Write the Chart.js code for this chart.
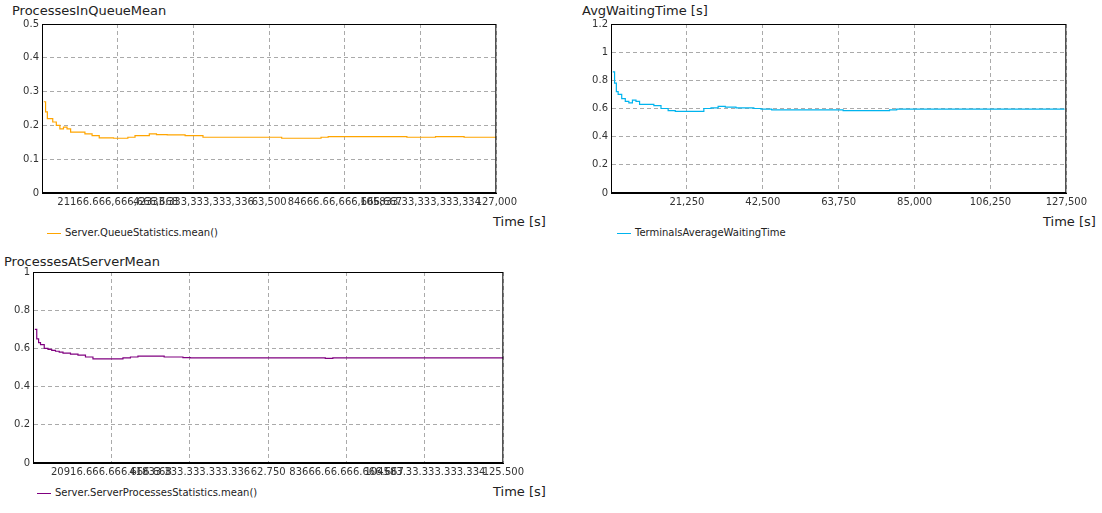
<!DOCTYPE html>
<html><head><meta charset="utf-8">
<script src="https://cdn.jsdelivr.net/npm/chart.js@4"></script>
<style>
body{margin:0;background:#fff;font-family:"DejaVu Sans",sans-serif;}
.c{position:absolute;}
.t{position:absolute;font-size:13px;color:#222;white-space:nowrap;}
.l{position:absolute;font-size:10px;color:#222;white-space:nowrap;}
.l span{display:inline-block;width:14px;height:1px;vertical-align:middle;margin-right:4px;}
</style></head><body>
<div class="t" style="left:12px;top:3px">ProcessesInQueueMean</div>
<div class="t" style="left:582px;top:3px">AvgWaitingTime [s]</div>
<div class="t" style="left:4px;top:254px">ProcessesAtServerMean</div>
<div class="t" style="left:493px;top:214px">Time [s]</div>
<div class="t" style="left:1043px;top:214px">Time [s]</div>
<div class="t" style="left:493px;top:484px">Time [s]</div>
<div class="l" style="left:47px;top:227px"><span style="background:#ffa500"></span>Server.QueueStatistics.mean()</div>
<div class="l" style="left:617px;top:227px"><span style="background:#00b4ee"></span>TerminalsAverageWaitingTime</div>
<div class="l" style="left:37px;top:487px"><span style="background:#800080"></span>Server.ServerProcessesStatistics.mean()</div>
<div class="c" style="left:0;top:15px;width:520px;height:200px"><canvas id="c1"></canvas></div>
<div class="c" style="left:569px;top:15px;width:521px;height:200px"><canvas id="c2"></canvas></div>
<div class="c" style="left:0;top:263px;width:527px;height:222px"><canvas id="c3"></canvas></div>
<script>
const times = [500,1000,1500,2000,3000,4000,5000,6000,7000,8000,10000,12000,14000,16000,18000,20000,22000,24000,26000,28000,30000,32000,35000,40000,42000,45000,50000,60000,65000,67000,70000,76000,78000,80000,90000,100000,102000,110000,117000,118000,127000];
const queueMean = [.27,.24,.22,.22,.21,.20,.19,.195,.19,.18,.18,.175,.17,.163,.163,.162,.162,.165,.17,.17,.175,.173,.172,.17,.17,.165,.165,.165,.165,.162,.162,.162,.165,.167,.167,.167,.165,.167,.167,.165,.165];
const waitingTime = [.86,.78,.72,.70,.67,.65,.64,.66,.65,.63,.63,.62,.60,.585,.58,.58,.58,.58,.60,.605,.615,.61,.605,.60,.595,.59,.59,.59,.585,.585,.585,.585,.59,.595,.595,.595,.595,.595,.595,.595,.595];
const serverMean = [.70,.65,.63,.62,.60,.595,.59,.585,.58,.575,.57,.565,.555,.545,.545,.545,.545,.55,.555,.56,.56,.56,.555,.552,.55,.55,.55,.55,.55,.55,.55,.55,.548,.55,.55,.55,.55,.55,.55,.55,.55];

function make(id, vals, color, yMax, yStep, xMax, yW, sep) {
  new Chart(document.getElementById(id), {
    type: 'line',
    data: { datasets: [{ data: times.map((t, i) => ({x: t, y: vals[i]})), borderColor: color, borderWidth: 1.2, pointRadius: 0, stepped: true }] },
    options: {
      responsive: true, maintainAspectRatio: false, animation: false,
      layout: { padding: { top: 8, right: 8 } },
      plugins: { legend: { display: false }, tooltip: { enabled: false } },
      scales: {
        x: { type: 'linear', min: 0, max: xMax,
          afterFit: a => { a.height = 22; },
          ticks: { stepSize: 20000, maxRotation: 0, autoSkip: false, color: '#333', font: {family: 'DejaVu Sans', size: 10},
            callback: v => v === 0 ? '' : String(v).replace(/\B(?=(\d{3})+$)/g, sep) },
          grid: { color: '#aaa', drawTicks: false }, border: { color: '#000', dash: [4, 3] } },
        y: { min: 0, max: yMax,
          afterFit: a => { a.width = yW; },
          ticks: { stepSize: yStep, color: '#333', font: {family: 'DejaVu Sans', size: 10}, callback: v => String(+v.toFixed(1)) },
          grid: { color: '#aaa', drawTicks: false }, border: { color: '#000', dash: [4, 3] } }
      }
    },
    plugins: [{ id: 'frame', afterDraw(c) { const a = c.chartArea, g = c.ctx; g.save(); g.strokeStyle = '#000'; g.lineWidth = 1; g.strokeRect(a.left + .5, a.top + .5, a.width - 1, a.height - 1); g.restore(); } }]
  });
}
make('c1', queueMean, '#ffa500', 0.5, 0.1, 127000, 42, ',');
make('c2', waitingTime, '#00b4ee', 1.2, 0.2, 127500, 42, ',');
make('c3', serverMean, '#800080', 1, 0.2, 125500, 33, '.');
</script>
</body></html>
